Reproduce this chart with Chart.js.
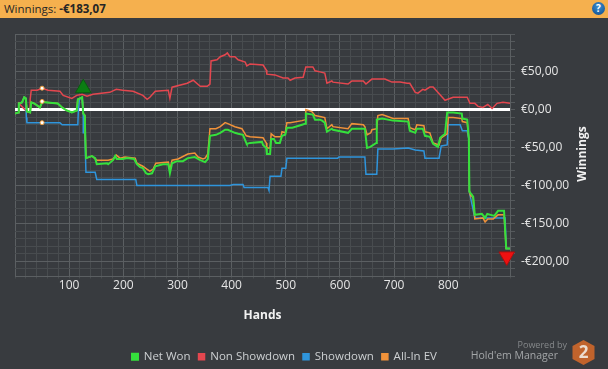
<html>

<head>
    <script src="https://cdn.jsdelivr.net/npm/chart.js"></script>
    <style>
        body { margin: 0; background: #383b3f; overflow: hidden; font-family: "Open Sans", sans-serif; }
        #header { position: absolute; left: 0; top: 0; width: 608px; height: 18px; background: #f5b04e; color: #262626; font-size: 11.5px; line-height: 18px; text-indent: 4px; }
        #help { position: absolute; left: 592px; top: 2px; width: 13px; height: 13px; border-radius: 50%; background: radial-gradient(circle at 50% 35%, #3f8fd0, #0c4a8a); color: #fff; font: bold 10px/13px "Open Sans"; text-align: center; text-indent: 0; }
        #powered { position: absolute; right: 41px; top: 338px; color: #85888a; font-size: 9px; }
        #hm { position: absolute; right: 50px; top: 348px; color: #a3a6a8; font-size: 10.5px; }
        #logo { position: absolute; left: 572px; top: 340px; }
    </style>
</head>

<body>
    <canvas id="chart" width="608" height="369" style="position:absolute;left:0;top:0"></canvas>
    <div id="header">Winnings: <b>-€183,07</b><div id="help">?</div></div>
    <div id="powered">Powered by</div>
    <div id="hm">Hold'em Manager</div>
    <svg id="logo" width="23" height="25" viewBox="0 0 23 25">
        <polygon points="11.5,0 22.5,6 22.5,19 11.5,25 0.5,19 0.5,6" fill="#c0632c"></polygon>
        <text x="11.5" y="18" text-anchor="middle" font-family="Open Sans" font-weight="bold" font-size="17" fill="#ecdccf">2</text>
    </svg>

    <script>
        // hands on x, euros on y
        var netWonHands = [0, 6, 7, 13, 17, 20, 22, 28, 30, 35, 41, 46, 50, 55, 79, 87, 96, 105, 114, 116, 124, 126, 129, 129, 131, 142, 148, 151, 170, 172, 181, 185, 188, 199, 207, 220, 225, 231, 236, 242, 246, 253, 259, 273, 283, 286, 290, 299, 310, 319, 332, 342, 351, 356, 360, 371, 379, 388, 393, 406, 412, 421, 427, 428, 434, 456, 458, 464, 465, 471, 473, 478, 482, 489, 493, 499, 502, 512, 530, 536, 537, 550, 554, 563, 567, 572, 576, 585, 587, 615, 622, 643, 646, 650, 656, 667, 668, 678, 698, 726, 729, 739, 742, 753, 757, 766, 772, 781, 785, 794, 798, 809, 825, 826, 835, 838, 839, 846, 849, 862, 868, 872, 885, 892, 903, 907, 914];
        var netWonValues = [-5, -3.6, 8.4, 9.8, 16.5, 15, -2.3, -3.6, 9.8, 8.4, 5.7, 3, 9.8, 9.8, 8.4, 3, -1, -3.6, -1, 13.8, 16.5, -5, -7.6, -14, -63.8, -61, -63.8, -71.8, -70.5, -71.8, -66.5, -61, -65, -65, -63.8, -65, -71.8, -75.8, -77, -83.8, -85, -83.8, -74.5, -71.8, -71.8, -83.8, -70.5, -67.8, -67.8, -63.8, -62.4, -66.5, -69, -65, -34.4, -33, -30.4, -26.3, -26.3, -30.4, -31.7, -33, -43.7, -45, -43.7, -42.4, -46.4, -50.4, -58.4, -58.4, -38.4, -38.4, -43.7, -43.7, -34.4, -33, -23.6, -23.6, -19.7, -18.3, -5, -6.3, -13, -13, -14.3, -17, -29, -25, -26.3, -30.4, -25, -25, -25, -50.4, -49, -43.7, -13, -11.6, -14.3, -15.6, -27.7, -30.4, -25, -25, -34.4, -35.7, -45, -49, -37, -31.7, -3.6, -3.6, -5, -11.6, -13, -38.4, -107.9, -114.6, -138.6, -137.3, -142.7, -137.3, -140, -133.3, -133.3, -183, -183];

        var nonShowdownHands = [0, 6, 7, 22, 28, 28, 30, 41, 50, 61, 83, 89, 105, 114, 124, 133, 144, 175, 187, 199, 218, 236, 244, 249, 259, 283, 286, 290, 318, 329, 342, 355, 360, 362, 373, 379, 388, 392, 397, 406, 412, 425, 428, 434, 458, 464, 465, 480, 495, 504, 508, 517, 532, 537, 550, 554, 563, 572, 576, 585, 587, 615, 622, 643, 648, 659, 683, 696, 711, 724, 729, 739, 744, 753, 757, 766, 772, 789, 794, 809, 835, 840, 849, 855, 864, 873, 881, 890, 901, 914];
        var nonShowdownValues = [-5, -3.6, 8.4, -2.3, -3.6, 13.8, 25.8, 25.8, 28.5, 25.8, 24.5, 19, 15, 19, 20.5, 17.8, 20.5, 23, 27, 25.8, 24.5, 19, 13.8, 16.5, 24.5, 25.8, 15, 29.8, 35, 39, 31, 31, 34, 64.5, 66, 70, 72.6, 75, 70, 70, 66, 63, 58, 60.5, 59, 52.5, 47, 46, 42, 42, 39, 42, 43, 56.5, 56.5, 51.5, 50, 48.5, 35, 38, 36.5, 34, 38, 38, 34, 40.5, 40.5, 36.5, 36.5, 35, 35, 23, 22, 27, 25.8, 30, 30, 16.5, 12.5, 16.5, 16.5, 8.5, 8.5, 4.5, 3, 7, 1.7, 8.5, 9.8, 8.5];

        var showdownHands = [0, 6, 7, 13, 17, 20, 21, 22, 52, 83, 87, 116, 117, 119, 124, 126, 126, 129, 131, 148, 151, 223, 225, 397, 403, 421, 423, 467, 469, 471, 491, 493, 500, 502, 596, 598, 646, 648, 668, 670, 698, 726, 739, 755, 757, 783, 787, 798, 800, 822, 826, 835, 838, 839, 842, 849, 905, 907, 914];
        var showdownValues = [-5, -3.6, 8.4, 9.8, 16.5, 15, -10.3, -17, -17, -17, -19.7, -19.7, -1, 13.8, 16.5, -5, -30.4, -30.4, -82.5, -82.5, -91.9, -91.9, -99.9, -99.9, -98.5, -98.5, -102.5, -102.5, -106.5, -87.8, -87.8, -77, -77, -63.8, -63.8, -62.4, -62.4, -85, -85, -51.7, -51.7, -50.4, -53, -54.4, -63.8, -63.8, -47.7, -46.4, -19.7, -19.7, -27.7, -27.7, -38.4, -107.9, -118.6, -142.7, -142.7, -183, -183];

        var allInHands = [0, 6, 7, 13, 17, 20, 22, 28, 30, 35, 41, 46, 50, 55, 79, 87, 96, 105, 114, 116, 124, 126, 129, 129, 131, 142, 151, 172, 181, 187, 194, 203, 222, 225, 236, 244, 249, 255, 260, 283, 286, 290, 301, 319, 332, 338, 347, 351, 356, 360, 371, 379, 388, 393, 406, 419, 427, 434, 458, 464, 465, 471, 473, 480, 491, 493, 499, 502, 508, 530, 536, 537, 548, 554, 563, 572, 576, 585, 587, 615, 622, 643, 646, 650, 657, 659, 668, 670, 678, 698, 726, 729, 739, 742, 755, 757, 766, 772, 783, 787, 798, 800, 809, 825, 826, 835, 838, 839, 840, 846, 849, 864, 868, 873, 883, 892, 903, 907, 914];
        var allInValues = [-5, -3.6, 8.4, 9.8, 16.5, 15, -2.3, -3.6, 9.8, 8.4, 5.7, 3, 9.8, 9.8, 8.4, 3, -1, -3.6, -1, 13.8, 16.5, -5, -7.6, -14, -63.8, -61, -66.5, -66.5, -65, -59.8, -63.8, -62.4, -63.8, -70.5, -74.5, -78.5, -81, -78.5, -70.5, -69, -79.8, -66.5, -65, -58.4, -57, -62.4, -65, -63.8, -58.4, -25, -25, -22.3, -17, -18.3, -22.3, -25, -34.4, -35.7, -37, -43.7, -50.4, -50.4, -31.7, -35.7, -35.7, -29, -30.4, -17, -17, -14.3, -13, 0.4, -2.3, -7.6, -9, -10.3, -25, -19.7, -22.3, -25, -18.3, -19.7, -22.3, -33, -30.4, -26.3, -25, -7.6, -6.3, -11.6, -11.6, -23.7, -26.3, -19.7, -21, -29, -30.4, -43.7, -46.4, -37, -31.7, -10.3, -10.3, -11.6, -15.6, -17, -38.4, -107.9, -110.6, -116, -144, -142.7, -148, -144, -144, -138.6, -138.6, -183, -183];

        // little dots where the hover crosshair sat, and the best / worst markers
        var hoverHands = [50, 50, 50];
        var hoverValues = [28.5, 11, -17];
        var bestHand = [126];
        var bestValue = [28.5];
        var worstHand = [908];
        var worstValue = [-193.5];

        function toPoints(hands, values) {
            return hands.map(function(h, i) {
                return { x: h, y: values[i] };
            });
        }

        function lineSet(label, hands, values, color, order, width) {
            return {
                label: label,
                data: toPoints(hands, values),
                borderColor: color,
                backgroundColor: color,
                borderWidth: width,
                pointRadius: 0,
                tension: 0,
                order: order
            };
        }

        function moneyLabel(v) {
            if (v % 50 != 0 || v == 100) return '';
            return (v < 0 ? '-' : '') + '€' + Math.abs(v) + ',00';
        }

        function gridColor(major, minor) {
            return function(c) {
                if (c.scale.axis == 'y' && c.tick.value == 0) return '#ffffff';
                var every = c.scale.axis == 'x' ? 100 : 50;
                if (c.tick.value % every == 0 || c.tick.value == c.scale.max) return major;
                return minor;
            };
        }

        // the library rotates a right hand title the other way round, so draw it here
        var sideTitle = {
            id: 'sideTitle',
            afterDraw: function(chart) {
                var ctx = chart.ctx;
                ctx.save();
                ctx.translate(583, 154);
                ctx.rotate(-Math.PI / 2);
                ctx.font = 'bold 12px "Open Sans"';
                ctx.fillStyle = '#f2f2f2';
                ctx.textAlign = 'center';
                ctx.textBaseline = 'middle';
                ctx.fillText('Winnings', 0, 0);
                ctx.restore();
            }
        };

        // legend sits under the plot, off to the middle
        var legendPlace = {
            id: 'legendPlace',
            afterLayout: function(chart) {
                chart.legend.left = 124;
                chart.legend.right = 460;
                chart.legend.top = 343;
            }
        };

        new Chart(document.getElementById('chart').getContext('2d'), {
            type: 'line',
            data: {
                datasets: [
                    lineSet('Net Won', netWonHands, netWonValues, '#35e03c', 1, 2),
                    lineSet('Non Showdown', nonShowdownHands, nonShowdownValues, '#e4474f', 4, 1.5),
                    lineSet('Showdown', showdownHands, showdownValues, '#2f95dc', 3, 1.5),
                    lineSet('All-In EV', allInHands, allInValues, '#f0923a', 2, 1.5),
                    {
                        label: 'hover',
                        data: toPoints(hoverHands, hoverValues),
                        showLine: false,
                        pointRadius: 2,
                        pointBackgroundColor: '#ffffff',
                        pointBorderColor: '#f0a040',
                        pointBorderWidth: 1,
                        order: 0
                    },
                    {
                        label: 'best',
                        data: toPoints(bestHand, bestValue),
                        showLine: false,
                        pointStyle: 'triangle',
                        pointRadius: 9,
                        pointBackgroundColor: '#0b7d12',
                        pointBorderColor: '#0a5c10',
                        clip: false,
                        order: 0
                    },
                    {
                        label: 'worst',
                        data: toPoints(worstHand, worstValue),
                        showLine: false,
                        pointStyle: 'triangle',
                        pointRotation: 180,
                        pointRadius: 9,
                        pointBackgroundColor: '#ee1111',
                        pointBorderColor: '#a80f0f',
                        clip: false,
                        order: 0
                    }
                ]
            },
            options: {
                responsive: false,
                animation: false,
                layout: { padding: { left: 15, top: 34, right: 0, bottom: 0 } },
                plugins: {
                    tooltip: { enabled: false },
                    legend: {
                        position: 'bottom',
                        align: 'start',
                        labels: {
                            boxWidth: 6,
                            boxHeight: 6,
                            padding: 8,
                            color: '#cdd0d2',
                            font: { family: 'Open Sans', size: 11.5 },
                            sort: function(a, b) {
                                return a.datasetIndex - b.datasetIndex;
                            },
                            filter: function(item) {
                                return ['hover', 'best', 'worst'].indexOf(item.text) == -1;
                            }
                        }
                    }
                },
                scales: {
                    x: {
                        type: 'linear',
                        min: 0,
                        max: 914,
                        afterFit: function(s) { s.height = 63; },
                        grid: { color: gridColor('#5b5f62', '#484c4f'), tickColor: '#484c4f', tickLength: 2 },
                        border: { color: '#5b5f62' },
                        title: {
                            display: true,
                            text: 'Hands',
                            color: '#f2f2f2',
                            font: { family: 'Open Sans', size: 12, weight: 'bold' },
                            padding: { top: 0, bottom: 17 }
                        },
                        ticks: {
                            stepSize: 20,
                            autoSkip: false,
                            maxRotation: 0,
                            padding: 0,
                            color: '#e6e6e6',
                            font: { family: 'Open Sans', size: 12 },
                            callback: function(v) {
                                return (v % 100 == 0 && v > 0 && v < 900) ? String(v) : '';
                            }
                        }
                    },
                    y: {
                        position: 'right',
                        min: -220,
                        max: 100,
                        afterFit: function(s) { s.width = 98; },
                        grid: {
                            color: gridColor('#5b5f62', '#484c4f'),
                            lineWidth: function(c) { return c.tick.value == 0 ? 3 : 1; },
                            tickColor: '#55595c',
                            tickWidth: 1,
                            tickLength: 5
                        },
                        border: { color: '#5b5f62' },
                        ticks: {
                            stepSize: 10,
                            autoSkip: false,
                            padding: 6,
                            color: '#e6e6e6',
                            font: { family: 'Open Sans', size: 12 },
                            callback: moneyLabel
                        }
                    }
                }
            },
            plugins: [sideTitle, legendPlace]
        });
    </script>

</body>

</html>
